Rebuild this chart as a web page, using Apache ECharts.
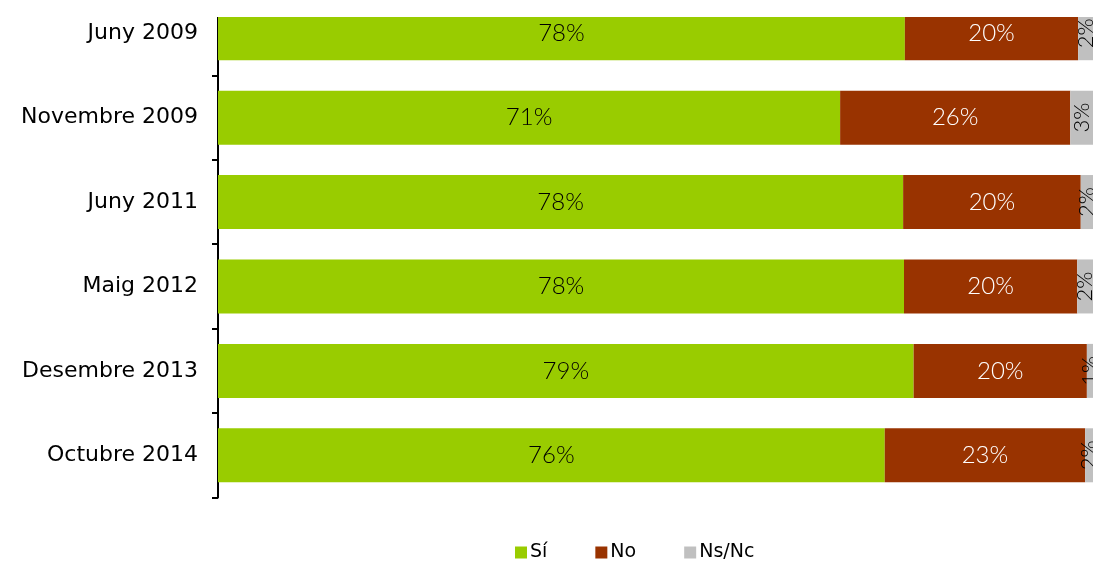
<!DOCTYPE html>
<html>
<head>
<meta charset="utf-8">
<title>Sí / No</title>
<script src="https://cdn.jsdelivr.net/npm/echarts@6/dist/echarts.min.js"></script>
</head>
<body style="margin:0;padding:0;overflow:hidden">
<!-- the top of the first bar is cut off in the original, so the chart starts a little above the page -->
<div id="chart" style="width:1093px;height:570px;margin-top:-9px"></div>
<script type="text/javascript">
var categories = ['Juny 2009', 'Novembre 2009', 'Juny 2011', 'Maig 2012', 'Desembre 2013', 'Octubre 2014'];
// bar lengths
var siValues = [78.5, 71.1, 78.3, 78.4, 79.5, 76.2];
var noValues = [19.8, 26.3, 20.3, 19.8, 19.8, 22.9];
var nsValues = [1.7, 2.6, 1.4, 1.8, 0.7, 0.9];
// printed percentages
var siLabels = [78, 71, 78, 78, 79, 76];
var noLabels = [20, 26, 20, 20, 20, 23];
var nsLabels = [2, 3, 2, 2, 1, 2];

var textFont = 'DejaVu Sans';
var numFont = 'Lato';
var myChart = echarts.init(document.getElementById('chart'));

function labelFrom(arr) {
	return function (p) { return arr[p.dataIndex] + '%'; };
}

var option = {
	backgroundColor: '#fff',
	animation: false,
	grid: { left: 218, right: 0, top: 0, bottom: 63.5 },
	legend: {
		top: 547,
		left: 510,
		itemWidth: 12,
		itemHeight: 12,
		itemGap: 48,
		icon: 'rect',
		textStyle: { color: '#000', fontSize: 19, fontFamily: textFont, padding: [0, 0, 0, -2] },
		data: ['Sí', 'No', 'Ns/Nc']
	},
	xAxis: { type: 'value', min: 0, max: 100, show: false },
	yAxis: {
		type: 'category',
		inverse: true,
		data: categories,
		axisLine: { lineStyle: { color: '#000', width: 2 } },
		axisTick: { show: true, length: 6, lineStyle: { color: '#000', width: 2 } },
		axisLabel: { color: '#000', fontSize: 22, fontFamily: textFont, margin: 20 }
	},
	series: [{
		name: 'Sí',
		type: 'bar',
		stack: 'a',
		barWidth: 54,
		itemStyle: { color: '#99CC00' },
		label: { show: true, position: 'inside', color: '#000', fontSize: 24, fontFamily: numFont, fontWeight: 300, formatter: labelFrom(siLabels) },
		data: siValues
	}, {
		name: 'No',
		type: 'bar',
		stack: 'a',
		barWidth: 54,
		itemStyle: { color: '#993300' },
		label: { show: true, position: 'inside', color: '#fff', fontSize: 24, fontFamily: numFont, fontWeight: 300, formatter: labelFrom(noLabels) },
		data: noValues
	}, {
		name: 'Ns/Nc',
		type: 'bar',
		stack: 'a',
		barWidth: 54,
		itemStyle: { color: '#C0C0C0' },
		label: { show: true, position: 'inside', rotate: 90, color: '#000', fontSize: 22, fontFamily: numFont, fontWeight: 300, formatter: labelFrom(nsLabels) },
		data: nsValues
	}],
	graphic: [{
		type: 'rect',
		z: 100,
		shape: { x: 0, y: 0, width: 1093, height: 26 },
		style: { fill: '#fff' }
	}]
};
myChart.setOption(option);
</script>
</body>
</html>
